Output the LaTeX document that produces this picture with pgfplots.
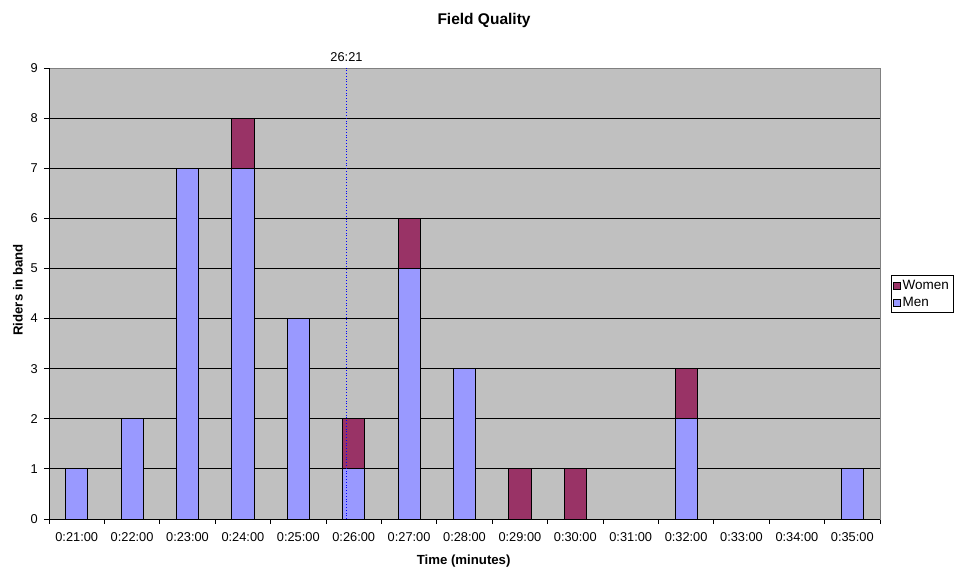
\documentclass[border=0pt]{standalone}
\usepackage{fontspec}
\setmainfont{Liberation Sans}
\usepackage{pgfplots}
\pgfplotsset{compat=1.18}
\definecolor{men}{HTML}{9999FF}
\definecolor{women}{HTML}{993366}
\definecolor{bg}{HTML}{C0C0C0}
\pgfplotsset{sqlegend/.style={legend image code/.code={\draw[##1,draw=black,line width=0.6pt] (0pt,-3.5pt) rectangle (7pt,3.5pt);}}}
\begin{document}
\fontsize{12.5}{15}\selectfont
\begin{tikzpicture}
\path[use as bounding box] (0pt,0pt) rectangle (959pt,577pt);
\begin{axis}[
 at={(49pt,58pt)}, anchor=south west,
 scale only axis, width=831pt, height=451pt,
 clip=false,
 ybar stacked, bar width=0.4,
 xmin=-0.5, xmax=14.5, ymin=0, ymax=9,
 xtick={0,...,14},
 xticklabels={0:21:00,0:22:00,0:23:00,0:24:00,0:25:00,0:26:00,0:27:00,0:28:00,0:29:00,0:30:00,0:31:00,0:32:00,0:33:00,0:34:00,0:35:00},
 minor xtick={-0.5,0.5,...,14.5},
 ytick={0,...,9},
 tick align=outside, tick pos=left,
 major x tick style={draw=none},
 major tick length=5pt, minor tick length=5pt,
 every tick/.style={black, line width=0.8pt},
 ymajorgrids, major grid style={black, line width=0.8pt},
 axis line style={draw=gray, line width=0.8pt},
 axis background/.style={fill=bg},
 /pgf/number format/assume math mode=true,
 ticklabel style={font=\fontsize{12.8}{15}\selectfont},
 xticklabel style={yshift=-4pt},
 yticklabel style={xshift=-2pt},
 title={Field Quality},
 title style={at={(rel axis cs:0.5235,1.0925)}, anchor=center, font=\fontsize{15.5}{18}\selectfont\bfseries},
 xlabel={Time (minutes)},
 xlabel style={at={(rel axis cs:0.499,-0.0931)}, anchor=center, font=\fontsize{13.2}{16}\selectfont\bfseries},
 ylabel={Riders in band},
 ylabel style={at={(rel axis cs:-0.0373,0.508)}, anchor=center, rotate=0, font=\fontsize{13.2}{16}\selectfont\bfseries},
 reverse legend,
 legend style={at={(rel axis cs:1.0505,0.499)}, anchor=center, draw=black, line width=0.6pt, fill=white, inner sep=2pt, row sep=2pt, font=\fontsize{13.5}{16}\selectfont},
 legend cell align=left,
]
\addplot[fill=men, draw=black, line width=0.8pt, sqlegend] coordinates {(0,1)(1,2)(2,7)(3,7)(4,4)(5,1)(6,5)(7,3)(8,0)(9,0)(10,0)(11,2)(12,0)(13,0)(14,1)};
\addlegendentry{Men}
\addplot[fill=women, draw=black, line width=0.8pt, sqlegend] coordinates {(0,0)(1,0)(2,0)(3,1)(4,0)(5,1)(6,1)(7,0)(8,1)(9,1)(10,0)(11,1)(12,0)(13,0)(14,0)};
\addlegendentry{Women}
\coordinate (vlA) at (axis cs:4.87,0);
\coordinate (vlB) at (axis cs:4.87,9);
\coordinate (o) at (rel axis cs:0,0);
\coordinate (t) at (rel axis cs:0,1);
\coordinate (r) at (rel axis cs:1,0);
\end{axis}
\draw[blue, dotted, line width=0.8pt] (vlA) -- (vlB);
\node[anchor=south, inner sep=0pt, font=\fontsize{12.8}{15}\selectfont, yshift=6pt] at (vlB) {26:21};
\draw[black, line width=0.8pt] (t) -- (o) -- (r);
\end{tikzpicture}
\end{document}
